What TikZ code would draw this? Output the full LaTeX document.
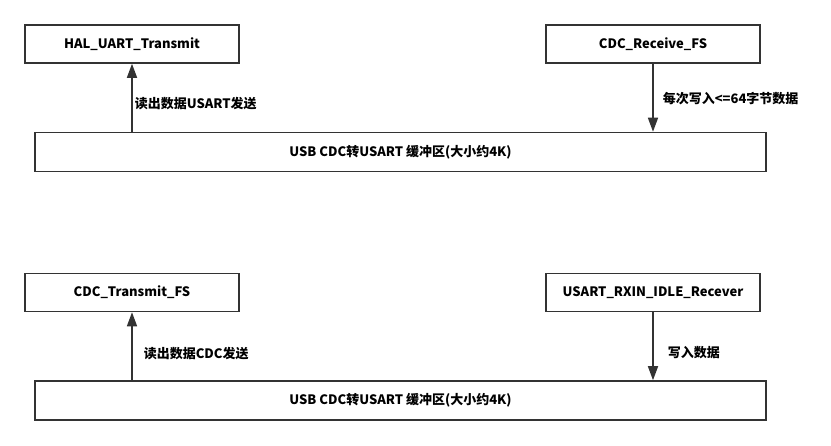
\documentclass[tikz,border=0pt]{standalone}
\usepackage{fontspec}
\setmainfont{Noto Sans CJK SC}
\usetikzlibrary{arrows.meta}
\tikzset{
  func/.style={draw=black!80,line width=1.6pt,minimum width=214pt,minimum height=38pt,inner sep=0pt,font=\fontsize{13}{15}\selectfont\bfseries},
  buf/.style={func,minimum width=731pt,minimum height=39pt},
  flow/.style={draw=black!80,line width=1.6pt,-{Triangle[width=10pt,length=14pt]}},
  lbl/.style={right,inner sep=0pt,font=\fontsize{13}{15}\selectfont\bfseries}
}
\begin{document}
\begin{tikzpicture}[x=1pt,y=-1pt]
        \useasboundingbox (0,0) rectangle (831,445);

        % USB -> USART
        \node[func] (halTx) at (132,44) {HAL\_UART\_Transmit};
        \node[func] (cdcRx) at (653,44) {CDC\_Receive\_FS};
        \node[buf] (bufA) at (400.5,152) {USB CDC转USART 缓冲区(大小约4K)};
        \draw[flow] (bufA.north -| halTx) -- (halTx) node[lbl,pos=0.42,xshift=2pt] {读出数据USART发送};
        \draw[flow] (cdcRx) -- (bufA.north -| cdcRx) node[lbl,pos=0.51,xshift=9pt] {每次写入<=64字节数据};

        % USART -> USB
        \node[func] (cdcTx) at (132,292.5) {CDC\_Transmit\_FS};
        \node[func] (uartRx) at (653,292.5) {USART\_RXIN\_IDLE\_Recever};
        \node[buf] (bufB) at (400.5,400.5) {USB CDC转USART 缓冲区(大小约4K)};
        \draw[flow] (bufB.north -| cdcTx) -- (cdcTx) node[lbl,pos=0.39,xshift=11pt] {读出数据CDC发送};
        \draw[flow] (uartRx) -- (bufB.north -| uartRx) node[lbl,pos=0.6,xshift=14pt] {写入数据};
\end{tikzpicture}
\end{document}
